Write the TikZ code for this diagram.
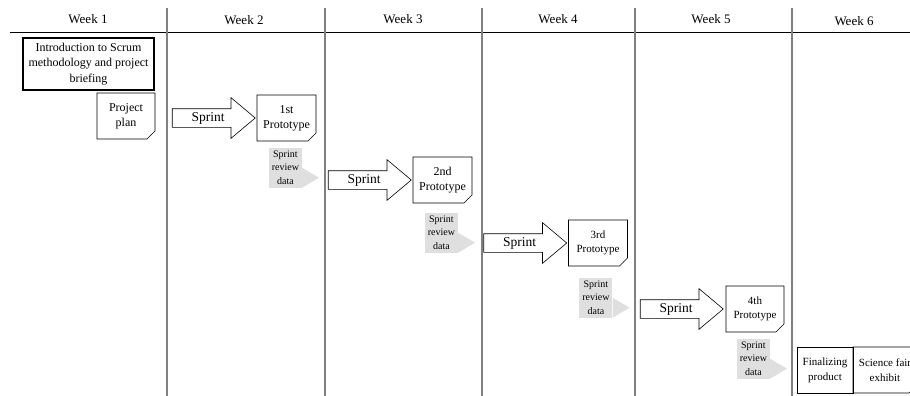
\documentclass[tikz,border=0pt]{standalone}
\usepackage{fontspec}
\setmainfont{Liberation Serif}
\usetikzlibrary{positioning,calc,shapes.arrows,shapes.misc}

\begin{document}
\begin{tikzpicture}[
    x=1pt, y=-1pt,
    week/.style={font=\fontsize{13}{15}\selectfont},
    divider/.style={draw=gray, line width=1.4pt},
    note/.style={chamfered rectangle, chamfered rectangle corners=south east, chamfered rectangle xsep=5pt,
        draw, line width=0.6pt, minimum width=59pt, minimum height=46pt, inner sep=1pt, align=center,
        font=\fontsize{12}{15}\selectfont,
        path picture={\draw[line width=0.6pt, fill=gray!70] ([xshift=-5pt]path picture bounding box.south east)
            -- ([xshift=-4pt, yshift=4pt]path picture bounding box.south east)
            -- ([yshift=5pt]path picture bounding box.south east) -- cycle;}},
    sprint/.style={single arrow, draw, line width=0.6pt, single arrow tip angle=80, single arrow head extend=11pt,
        minimum height=83pt, text height=9pt, text depth=3pt, inner ysep=3pt, inner xsep=2pt,
        font=\fontsize{13.5}{15}\selectfont},
    review/.style={fill=gray!25, minimum width=33pt, minimum height=40pt, inner sep=0pt, align=center,
        font=\fontsize{10}{13.5}\selectfont},
    tab/.style={fill=gray!25},
    task/.style={draw, line width=0.6pt, minimum width=56pt, minimum height=46pt, inner sep=1pt, align=center,
        font=\fontsize{11}{15}\selectfont}
]
\useasboundingbox (0,0) rectangle (910,396);

% Week header and column dividers
\draw[line width=0.7pt] (10,32) -- (910,32);
\draw[divider] (167,8) -- (167,396);
\draw[divider] (325,8) -- (325,396);
\draw[divider] (482,8) -- (482,396);
\draw[divider] (635,8) -- (635,396);
\draw[divider] (792,8) -- (792,396);

\node[week] (w1) at (88,19) {Week 1};
\node[week] (w2) at (244,20) {Week 2};
\node[week] (w3) at (403,19) {Week 3};
\node[week] (w4) at (558,19) {Week 4};
\node[week] (w5) at (711,19) {Week 5};
\node[week] (w6) at (854,21) {Week 6};

% Week 1: briefing and plan
\node[draw, line width=1.6pt, minimum width=131pt, minimum height=52pt, inner sep=1pt, align=center,
    font=\fontsize{12}{15.5}\selectfont] (intro) at (88.5,64)
    {Introduction to Scrum\\methodology and project\\briefing};
\node[note, minimum width=58pt] (plan) at (126,116) {Project\\plan};

% Prototypes
\node[note] (p1) at (286.5,118) {1st\\Prototype};
\node[note] (p2) at (442.5,180) {2nd\\Prototype};
\node[note, font=\fontsize{11}{14}\selectfont] (p3) at (598,243) {3rd\\Prototype};
\node[note, minimum width=58pt, font=\fontsize{11}{14}\selectfont] (p4) at (755,309) {4th\\Prototype};

% Sprint arrows pointing at each prototype
\node[sprint, anchor=tip] (s1) at ([xshift=-1pt]p1.west) {Sprint};
\node[sprint, anchor=tip] (s2) at ([xshift=-1pt]p2.west) {Sprint};
\node[sprint, anchor=tip] (s3) at ([xshift=-1pt]p3.west) {Sprint};
\node[sprint, anchor=tip] (s4) at ([xshift=-2pt]p4.west) {Sprint};

% Sprint review data
\node[review, anchor=north west] (r1) at ([xshift=12pt, yshift=-6pt]p1.south west) {Sprint\\review\\data};
\node[review, anchor=north west] (r2) at ([xshift=12pt, yshift=-9pt]p2.south west) {Sprint\\review\\data};
\node[review, anchor=north west] (r3) at ([xshift=11pt, yshift=-11pt]p3.south west) {Sprint\\review\\data};
\node[review, anchor=north west] (r4) at ([xshift=11pt, yshift=-6pt]p4.south west) {Sprint\\review\\data};
\fill[tab] (r1.south east) -- ++(0,-20) -- ++(17,10) -- cycle;
\fill[tab] (r2.south east) -- ++(0,-20) -- ++(17,10) -- cycle;
\fill[tab] (r3.south east) -- ++(0,-20) -- ++(17,10) -- cycle;
\fill[tab] (r4.south east) -- ++(0,-20) -- ++(17,10) -- cycle;

% Week 6
\node[task] (final) at (825,370) {Finalizing\\product};
\node[note, minimum width=54pt, font=\fontsize{11}{15}\selectfont] (fair) at (885,370) {Science fair\\exhibit};

\end{tikzpicture}
\end{document}
